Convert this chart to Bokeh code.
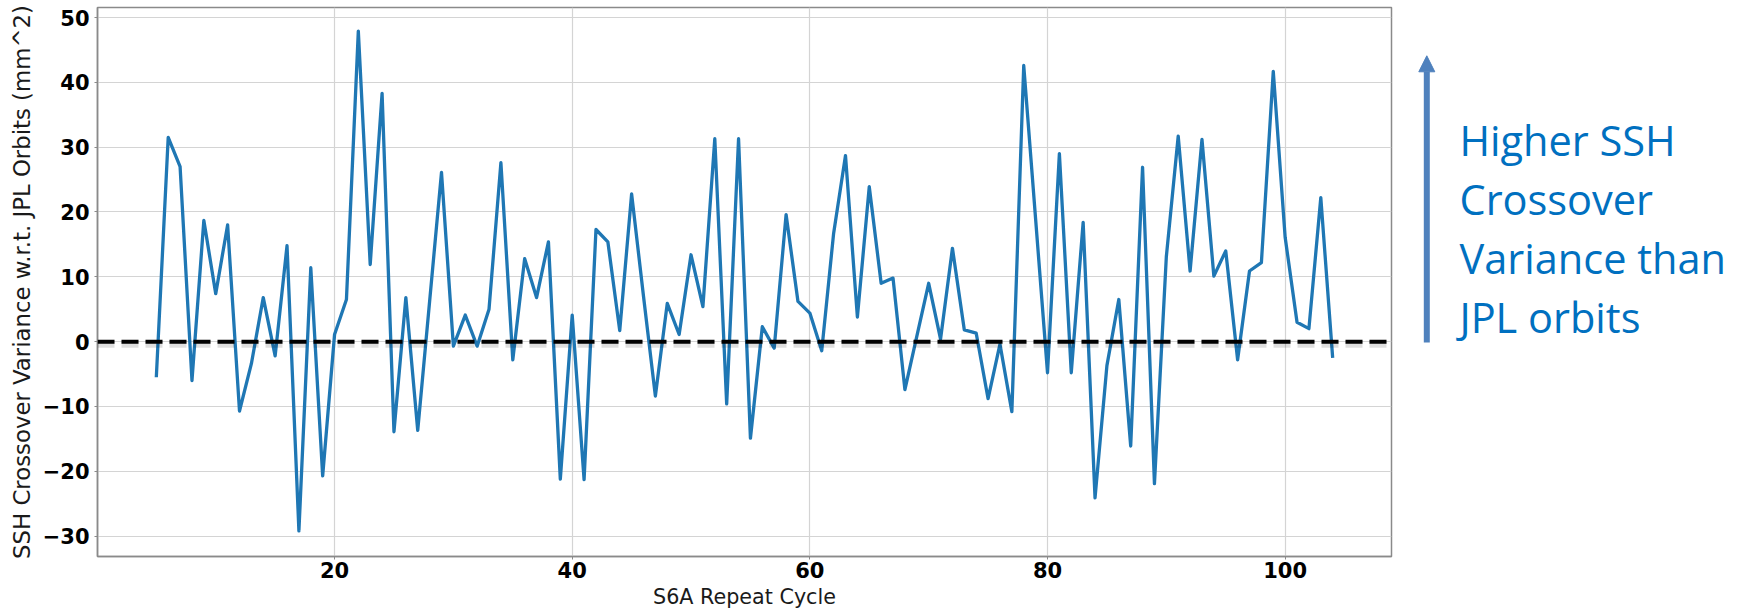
from bokeh.plotting import figure
from bokeh.layouts import row
from bokeh.models import Range1d, FixedTicker, Span, Arrow, NormalHead, ColumnDataSource
from bokeh.core.properties import value
from bokeh.embed import file_html
from bokeh.resources import INLINE

# ---------------- data ----------------
cycles = list(range(5, 105))
variance_diff = [
    -5.5, 31.5, 27.0, -6.0, 18.7, 7.4, 18.0, -10.7, -3.4, 6.8,      # 5-14
    -2.2, 14.8, -29.2, 11.4, -20.7, 1.1, 6.5, 47.9, 11.9, 38.3,      # 15-24
    -13.9, 6.8, -13.7, 6.2, 26.1, -0.7, 4.1, -0.7, 5.0, 27.6,        # 25-34
    -2.8, 12.8, 6.8, 15.4, -21.2, 4.1, -21.3, 17.3, 15.4, 1.7,       # 35-44
    22.8, 7.0, -8.4, 5.9, 1.1, 13.4, 5.4, 31.3, -9.6, 31.3,          # 45-54
    -14.9, 2.3, -1.0, 19.6, 6.2, 4.4, -1.4, 16.7, 28.7, 3.8,         # 55-64
    23.9, 9.0, 9.8, -7.4, 0.8, 9.0, 0.4, 14.4, 1.8, 1.3,             # 65-74
    -8.8, -0.4, -10.8, 42.6, 18.9, -4.8, 29.0, -4.8, 18.4, -24.1,    # 75-84
    -3.7, 6.5, -16.1, 26.9, -21.9, 13.1, 31.7, 10.9, 31.2, 10.1,     # 85-94
    14.0, -2.8, 10.9, 12.2, 41.7, 16.1, 3.0, 2.0, 22.2, -2.5,        # 95-104
]
zero_level = 0

x_ticks = [20, 40, 60, 80, 100]
x_tick_labels = ["20", "40", "60", "80", "100"]
y_ticks = [-30, -20, -10, 0, 10, 20, 30, 40, 50]
y_tick_labels = ["\u221230", "\u221220", "\u221210", "0", "10", "20", "30", "40", "50"]

x_label = "S6A Repeat Cycle"
y_label = "SSH Crossover Variance w.r.t. JPL Orbits (mm^2)"
note_lines = ["Higher SSH", "Crossover", "Variance than", "JPL orbits"]

# ---------------- layout constants ----------------
MAIN_W, FIG_H = 1393, 612
SIDE_W = 348
BORDER_L, BORDER_R, BORDER_T, BORDER_B = 97, 2, 7, 56

x_rng = Range1d(0.05, 108.95)
y_rng = Range1d(-33.15, 51.55)

# ---------------- main figure ----------------
p = figure(width=MAIN_W, height=FIG_H, output_backend="svg", toolbar_location=None,
           x_range=x_rng, y_range=y_rng,
           min_border_left=BORDER_L, min_border_right=BORDER_R,
           min_border_top=BORDER_T, min_border_bottom=BORDER_B)
p.background_fill_color = "white"
p.border_fill_color = "white"
p.outline_line_color = "#8a8a8a"
p.outline_line_width = 1.5

p.xaxis.ticker = FixedTicker(ticks=x_ticks)
p.yaxis.ticker = FixedTicker(ticks=y_ticks)
p.xaxis.major_label_overrides = {t: s for t, s in zip(x_ticks, x_tick_labels)}
p.yaxis.major_label_overrides = {t: s for t, s in zip(y_ticks, y_tick_labels)}

for ax in (p.xaxis, p.yaxis):
    ax.axis_line_color = "#8a8a8a"
    ax.axis_line_width = 1.5
    ax.major_tick_line_color = "#8a8a8a"
    ax.major_tick_in = 0
    ax.major_tick_out = 3
    ax.minor_tick_line_color = None
    ax.major_label_text_font = "DejaVu Sans"
    ax.major_label_text_font_style = "bold"
    ax.major_label_text_font_size = "21px"
    ax.major_label_text_color = "black"
    ax.axis_label_text_font = "DejaVu Sans"
    ax.axis_label_text_font_style = "normal"
    ax.axis_label_text_color = "#1a1a1a"

p.xaxis.axis_label = x_label
p.xaxis.axis_label_text_font_size = "20.7px"
p.xaxis.major_label_standoff = 2
p.xaxis.axis_label_standoff = 4

p.yaxis.axis_label = y_label
p.yaxis.axis_label_text_font_size = "22.8px"
p.yaxis.major_label_standoff = 5
p.yaxis.axis_label_standoff = 5

p.xgrid.grid_line_color = "#d4d4d4"
p.ygrid.grid_line_color = "#d4d4d4"
p.xgrid.grid_line_width = 1.2
p.ygrid.grid_line_width = 1.2

src = ColumnDataSource(dict(x=cycles, y=variance_diff))
p.line("x", "y", source=src, line_color="#1f77b4", line_width=3.3, line_join="round")

# zero reference line with soft shadow
p.add_layout(Span(location=zero_level - 0.4, dimension="width", line_color="black",
                  line_alpha=0.13, line_width=7, line_dash="17 7"))
p.add_layout(Span(location=zero_level, dimension="width", line_color="black",
                  line_width=4, line_dash="17 7"))

# ---------------- side annotation ----------------
side = figure(width=SIDE_W, height=FIG_H, output_backend="svg", toolbar_location=None,
              x_range=Range1d(0, SIDE_W), y_range=y_rng, x_axis_type=None, y_axis_type=None,
              min_border_left=0, min_border_right=0,
              min_border_top=BORDER_T, min_border_bottom=BORDER_B)
side.outline_line_color = None
side.grid.visible = False

arrow_x = 33.3
side.add_layout(Arrow(x_start=arrow_x, y_start=-0.15, x_end=arrow_x, y_end=44.1,
                      line_color="#4F81BD", line_width=6,
                      end=NormalHead(size=16, fill_color="#4F81BD", line_color="#4F81BD",
                                     line_width=1)))

note_x = 66
note_y0 = 31.06
note_dy = 9.1
side.text(x=[note_x] * len(note_lines),
          y=[note_y0 - i * note_dy for i in range(len(note_lines))],
          text=note_lines, text_font=value("Open Sans"), text_font_size="41.5px",
          text_color="#0070C0", text_baseline="alphabetic", text_align="left")

layout = row(p, side)
open("out.html", "w").write(file_html(layout, INLINE))
